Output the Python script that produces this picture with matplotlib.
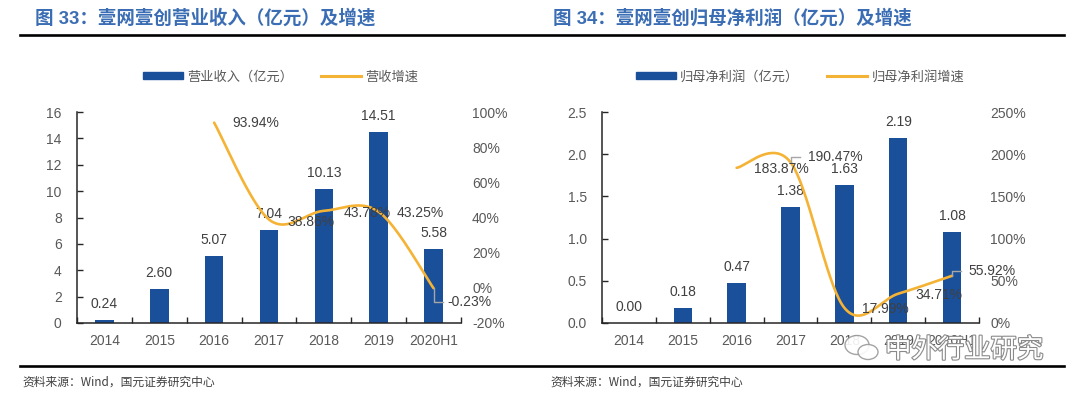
import numpy as np
import matplotlib
matplotlib.use('Agg')
import matplotlib.pyplot as plt
from matplotlib.ticker import FuncFormatter, MultipleLocator, FixedLocator
from matplotlib.patches import Ellipse
import matplotlib.patheffects as pe

plt.rcParams['font.family'] = ['Liberation Sans', 'Noto Sans CJK SC', 'DejaVu Sans']

years = ['2014', '2015', '2016', '2017', '2018', '2019', '2020H1']
revenue = [0.24, 2.60, 5.07, 7.04, 10.13, 14.51, 5.58]
revenue_growth = [None, None, 93.94, 38.86, 43.78, 43.25, -0.23]
profit = [0.00, 0.18, 0.47, 1.38, 1.63, 2.19, 1.08]
profit_growth = [None, None, 183.87, 190.47, 17.99, 34.71, 55.92]

W, H = 1080, 397
BAR = '#1a4f99'
LINE = '#f5b335'
TXT = '#404040'
TICK = '#595959'

# label offsets in pixels (dx, dy up) and which ones get a leader line
rev_off = [None, None, (42, 0), (42, -2), (43, -2), (42, -1), (36, -14)]
rev_leader = [6]
pro_off = [None, None, (45, -1), (45, 5), (41, -1), (41, -1), (40, 5)]
pro_leader = [3, 6]


def smooth(xs, ys, n=40):
    # excel-like smoothed line (catmull-rom as bezier)
    m = len(xs)
    ox, oy = [], []
    for i in range(m - 1):
        x0, y0 = xs[max(i - 1, 0)], ys[max(i - 1, 0)]
        x1, y1 = xs[i], ys[i]
        x2, y2 = xs[i + 1], ys[i + 1]
        x3, y3 = xs[min(i + 2, m - 1)], ys[min(i + 2, m - 1)]
        c1x, c1y = x1 + (x2 - x0) / 6, y1 + (y2 - y0) / 6
        c2x, c2y = x2 - (x3 - x1) / 6, y2 - (y3 - y1) / 6
        t = np.linspace(0, 1, n)
        bx = (1-t)**3*x1 + 3*(1-t)**2*t*c1x + 3*(1-t)*t**2*c2x + t**3*x2
        by = (1-t)**3*y1 + 3*(1-t)**2*t*c1y + 3*(1-t)*t**2*c2y + t**3*y2
        ox.extend(bx)
        oy.extend(by)
    return ox, oy


def box(x0, y0, x1, y1):
    return [x0 / W, 1 - y1 / H, (x1 - x0) / W, (y1 - y0) / H]


fig = plt.figure(figsize=(W / 100, H / 100), dpi=100)


def panel(rect, bars, growth, ylim, ystep, fmt, y2lim, y2step, offs, leaders, legend_x, names):
    ax = fig.add_axes(rect)
    x = np.arange(len(years))
    ax.bar(x, bars, width=0.34, color=BAR, zorder=2)
    ax.set_xlim(-0.5, len(years) - 0.5)
    ax.set_ylim(*ylim)
    ax.yaxis.set_major_locator(MultipleLocator(ystep))
    ax.yaxis.set_major_formatter(FuncFormatter(fmt))
    ax.set_xticks(x)
    ax.set_xticklabels(years)
    ax.xaxis.set_minor_locator(FixedLocator(np.arange(-0.5, len(years), 1.0)))
    ax.tick_params(axis='x', which='major', length=0, pad=8, labelsize=10, labelcolor=TICK)
    ax.tick_params(axis='x', which='minor', direction='in', length=4, width=1, color='#262626')
    ax.tick_params(axis='y', direction='in', length=4, width=1, color='#262626',
                   pad=11, labelsize=10, labelcolor=TICK)
    for s in ['top', 'right']:
        ax.spines[s].set_visible(False)
    for s in ['left', 'bottom']:
        ax.spines[s].set_color('#262626')
        ax.spines[s].set_linewidth(1.1)
    for xi, v in zip(x, bars):
        ax.annotate('%.2f' % v, (xi, v), xytext=(0, 16), textcoords='offset pixels',
                    ha='center', va='center', fontsize=10, color=TXT)

    ax2 = ax.twinx()
    ax2.set_ylim(*y2lim)
    ax2.yaxis.set_major_locator(MultipleLocator(y2step))
    ax2.yaxis.set_major_formatter(FuncFormatter(lambda v, p: '%d%%' % round(v)))
    ax2.tick_params(axis='y', length=0, pad=8, labelsize=10, labelcolor=TICK)
    for s in ax2.spines.values():
        s.set_visible(False)
    gx = [i for i, g in enumerate(growth) if g is not None]
    gy = [growth[i] for i in gx]
    sx, sy = smooth(gx, gy)
    ax2.plot(sx, sy, color=LINE, lw=1.9, zorder=3, solid_capstyle='round')
    for i in gx:
        dx, dy = offs[i]
        ax2.annotate('%.2f%%' % growth[i], (i, growth[i]), xytext=(dx, dy),
                     textcoords='offset pixels', ha='center', va='center',
                     fontsize=10, color=TXT, zorder=4)
        if i in leaders:
            p = ax2.transData.transform((i, growth[i]))
            pts = [p, p + [0, dy], p + [9, dy]]
            q = ax2.transData.inverted().transform(pts)
            ax2.plot(q[:, 0], q[:, 1], color='#a6a6a6', lw=1, zorder=3)

    h1 = plt.Rectangle((0, 0), 1, 1, color=BAR)
    h2 = plt.Line2D([], [], color=LINE, lw=2.2)
    fig.legend([h1, h2], names, loc='center', bbox_to_anchor=(legend_x / W, 1 - 77 / H),
               ncol=2, frameon=False, fontsize=9.5, handlelength=3.0, handleheight=0.45,
               handletextpad=0.35, columnspacing=2.1, borderpad=0,
               labelcolor='#595959', prop={'family': ['Noto Sans CJK SC'], 'size': 9.5})
    return ax


panel(box(77, 112, 461, 323), revenue, revenue_growth, (0, 16), 2, lambda v, p: '%d' % v,
      (-20, 100), 20, rev_off, rev_leader, 281, ['营业收入（亿元）', '营收增速'])
panel(box(602, 112, 979, 323), profit, profit_growth, (0, 2.5), 0.5, lambda v, p: '%.1f' % v,
      (0, 250), 50, pro_off, pro_leader, 800, ['归母净利润（亿元）', '归母净利润增速'])

# titles and rules
tcol = '#3a6db3'
fig.text(35 / W, 1 - 18 / H, '图 33：壹网壹创营业收入（亿元）及增速', fontsize=13.3,
         fontweight='bold', color=tcol, va='center', ha='left')
fig.text(553 / W, 1 - 18 / H, '图 34：壹网壹创归母净利润（亿元）及增速', fontsize=13.3,
         fontweight='bold', color=tcol, va='center', ha='left')
fig.add_artist(plt.Line2D([20 / W, 1064 / W], [1 - 34.5 / H, 1 - 34.5 / H], color='black', lw=1.9))
fig.add_artist(plt.Line2D([20 / W, 1064 / W], [1 - 366 / H, 1 - 366 / H], color='black', lw=1.9))

src = '资料来源：Wind，国元证券研究中心'
fig.text(22 / W, 1 - 382 / H, src, fontsize=8.5, color='#404040', va='center',
         family=['Noto Sans CJK SC', 'Liberation Sans'])
fig.text(550 / W, 1 - 382 / H, src, fontsize=8.5, color='#404040', va='center',
         family=['Noto Sans CJK SC', 'Liberation Sans'])

# watermark
for cx, cy, w, h in [(857, 345, 24, 19), (868, 352, 20, 15)]:
    fig.add_artist(Ellipse((cx / W, 1 - cy / H), w / W, h / H, facecolor='white',
                           edgecolor='#9a9a9a', lw=1, alpha=0.9, transform=fig.transFigure))
fig.text(885 / W, 1 - 350 / H, '中外行业研究', fontsize=19, color='white', va='center',
         family=['Noto Sans CJK SC'],
         path_effects=[pe.withStroke(linewidth=1.6, foreground='#8a8a8a')])

fig.savefig('out.png', dpi=100)
